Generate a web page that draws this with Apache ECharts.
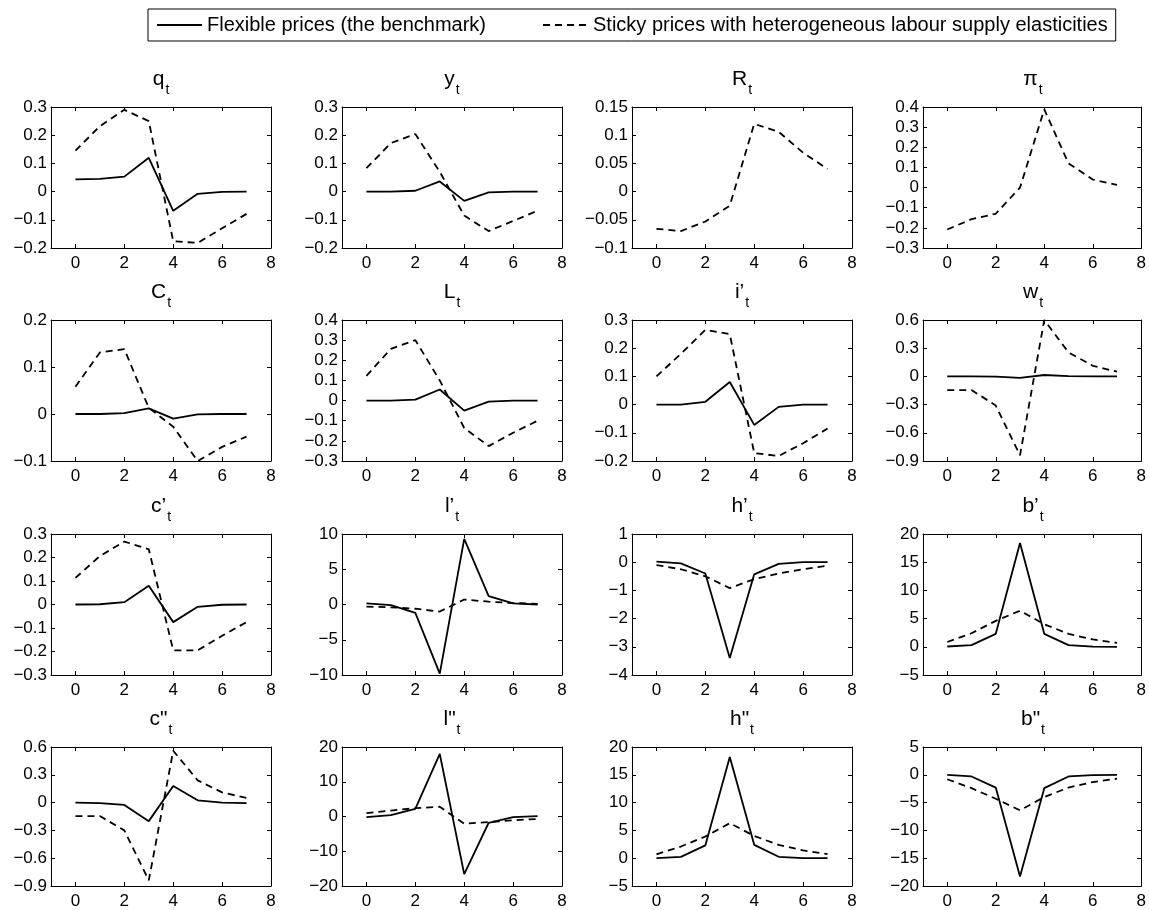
<!DOCTYPE html>
<html>
<head>
<meta charset="utf-8">
<script src="https://cdn.jsdelivr.net/npm/echarts@6/dist/echarts.min.js"></script>
<style>
  html, body { margin: 0; padding: 0; background: #fff; }
  #chart { width: 1149px; height: 910px; }
</style>
</head>
<body>
<div id="chart"></div>
<script>
// periods after the shock
const periods = [0, 1, 2, 3, 4, 5, 6, 7]

// flexible prices (solid) / sticky prices (dashed)
const qFlex = [0.043, 0.045, 0.053, 0.12, -0.068, -0.008, -0.001, 0]
const qSticky = [0.145, 0.232, 0.29, 0.25, -0.176, -0.182, -0.13, -0.079]
const yFlex = [0, 0, 0.003, 0.036, -0.033, -0.003, 0, 0]
const ySticky = [0.083, 0.172, 0.204, 0.07, -0.085, -0.14, -0.104, -0.068]
const RSticky = [-0.066, -0.07, -0.053, -0.025, 0.12, 0.106, 0.069, 0.04]
const piSticky = [-0.208, -0.157, -0.13, 0.0, 0.388, 0.12, 0.04, 0.013]

const CFlex = [0, 0, 0.002, 0.012, -0.01, -0.001, 0, 0]
const CSticky = [0.058, 0.131, 0.138, 0.013, -0.027, -0.1, -0.07, -0.048]
const LFlex = [0, 0, 0.005, 0.055, -0.05, -0.005, 0, 0]
const LSticky = [0.123, 0.257, 0.3, 0.1, -0.136, -0.226, -0.16, -0.1]
const iFlex = [0, 0, 0.01, 0.08, -0.072, -0.008, 0, 0]
const iSticky = [0.1, 0.18, 0.265, 0.25, -0.172, -0.182, -0.137, -0.085]
const wFlex = [0, 0, -0.003, -0.015, 0.015, 0.002, 0, 0]
const wSticky = [-0.145, -0.145, -0.31, -0.84, 0.6, 0.255, 0.113, 0.05]

const c1Flex = [0, 0.001, 0.01, 0.08, -0.075, -0.01, -0.001, 0]
const c1Sticky = [0.113, 0.206, 0.268, 0.235, -0.195, -0.195, -0.133, -0.075]
const l1Flex = [0.15, -0.1, -1.2, -9.8, 9.3, 1.2, 0.15, 0]
const l1Sticky = [-0.3, -0.4, -0.6, -1.0, 0.7, 0.4, 0.2, 0.1]
const h1Flex = [0.02, -0.04, -0.4, -3.4, -0.43, -0.06, 0, 0]
const h1Sticky = [-0.1, -0.25, -0.5, -0.92, -0.6, -0.4, -0.25, -0.12]
const b1Flex = [0.05, 0.3, 2.3, 18.4, 2.3, 0.3, 0.03, 0]
const b1Sticky = [0.85, 2.4, 4.6, 6.4, 4.0, 2.3, 1.3, 0.7]

const c2Flex = [0, -0.005, -0.025, -0.2, 0.18, 0.025, 0, -0.005]
const c2Sticky = [-0.145, -0.145, -0.3, -0.84, 0.56, 0.24, 0.11, 0.05]
const l2Flex = [-0.2, 0.4, 2.2, 18, -16.6, -1.8, -0.2, 0.1]
const l2Sticky = [1.0, 1.7, 2.4, 2.8, -2.1, -1.6, -1.1, -0.7]
const h2Flex = [0, 0.25, 2.3, 18.2, 2.4, 0.25, 0.03, 0]
const h2Sticky = [0.7, 2.1, 3.9, 6.3, 4.0, 2.4, 1.4, 0.75]
const b2Flex = [0, -0.3, -2.3, -18.3, -2.4, -0.3, -0.05, 0]
const b2Sticky = [-0.8, -2.4, -4.3, -6.4, -4.0, -2.3, -1.3, -0.7]

// y axis ticks: [min, max, step]
const qTicks = [-0.2, 0.3, 0.1]
const yTicks = [-0.2, 0.3, 0.1]
const RTicks = [-0.1, 0.15, 0.05]
const piTicks = [-0.3, 0.4, 0.1]
const CTicks = [-0.1, 0.2, 0.1]
const LTicks = [-0.3, 0.4, 0.1]
const iTicks = [-0.2, 0.3, 0.1]
const wTicks = [-0.9, 0.6, 0.3]
const c1Ticks = [-0.3, 0.3, 0.1]
const l1Ticks = [-10, 10, 5]
const h1Ticks = [-4, 1, 1]
const b1Ticks = [-5, 20, 5]
const c2Ticks = [-0.9, 0.6, 0.3]
const l2Ticks = [-20, 20, 10]
const h2Ticks = [-5, 20, 5]
const b2Ticks = [-20, 5, 5]

const xTickLabels = [0, 2, 4, 6, 8]

const flexName = 'Flexible prices (the benchmark)'
const stickyName = 'Sticky prices with heterogeneous labour supply elasticities'

const panels = [
  ['q', 't', qFlex, qSticky, qTicks],
  ['y', 't', yFlex, ySticky, yTicks],
  ['R', 't', null, RSticky, RTicks],
  ['\u03c0', 't', null, piSticky, piTicks],
  ['C', 't', CFlex, CSticky, CTicks],
  ['L', 't', LFlex, LSticky, LTicks],
  ['i\u2019', 't', iFlex, iSticky, iTicks],
  ['w', 't', wFlex, wSticky, wTicks],
  ['c\u2019', 't', c1Flex, c1Sticky, c1Ticks],
  ['l\u2019', 't', l1Flex, l1Sticky, l1Ticks],
  ['h\u2019', 't', h1Flex, h1Sticky, h1Ticks],
  ['b\u2019', 't', b1Flex, b1Sticky, b1Ticks],
  ['c"', 't', c2Flex, c2Sticky, c2Ticks],
  ['l"', 't', l2Flex, l2Sticky, l2Ticks],
  ['h"', 't', h2Flex, h2Sticky, h2Ticks],
  ['b"', 't', b2Flex, b2Sticky, b2Ticks]
]

const font = 'Liberation Sans, Arial, Helvetica, sans-serif'
const colLeft = [51, 342, 632, 923]
const rowTop = [107, 320, 534, 747]
const plotW = 220
const plotH = 141

function fmt (v) {
  return String(parseFloat(v.toFixed(6))).replace('-', '\u2212')
}

function pairs (vals) {
  return periods.map(function (t, k) { return [t, vals[k]] })
}

const grids = []
const xAxes = []
const yAxes = []
const titles = []
const series = []

panels.forEach(function (p, i) {
  const left = colLeft[i % 4]
  const top = rowTop[Math.floor(i / 4)]
  grids.push({ left: left, top: top, width: plotW, height: plotH, containLabel: false })

  // title with subscript t
  titles.push({
    text: '{m|' + p[0] + '}{s|' + p[1] + '}',
    left: left + plotW / 2,
    top: top - 46,
    textAlign: 'center',
    padding: 0,
    textStyle: {
      fontWeight: 'normal',
      rich: {
        m: { fontFamily: font, fontSize: 21, fontWeight: 'normal', color: '#000', lineHeight: 24 },
        s: { fontFamily: font, fontSize: 14, fontWeight: 'normal', color: '#000', padding: [22, 0, 0, 1] }
      }
    }
  })

  const tick = { show: true, inside: true, length: 4, lineStyle: { color: '#000', width: 1 } }
  const line = { show: true, onZero: false, lineStyle: { color: '#000', width: 1 } }

  xAxes.push({
    gridIndex: i, type: 'value', position: 'bottom', min: -1, max: 8,
    axisLine: line,
    axisTick: Object.assign({ customValues: xTickLabels }, tick),
    axisLabel: { customValues: xTickLabels, color: '#000', fontFamily: font, fontSize: 17, margin: 7, formatter: fmt },
    splitLine: { show: false }
  })
  xAxes.push({
    gridIndex: i, type: 'value', position: 'top', min: -1, max: 8,
    axisLine: line,
    axisTick: Object.assign({ customValues: xTickLabels }, tick),
    axisLabel: { show: false },
    splitLine: { show: false }
  })
  const yr = p[4]
  yAxes.push({
    gridIndex: i, type: 'value', position: 'left', min: yr[0], max: yr[1], interval: yr[2],
    axisLine: line,
    axisTick: tick,
    axisLabel: { color: '#000', fontFamily: font, fontSize: 17, margin: 4, formatter: fmt },
    splitLine: { show: false }
  })
  yAxes.push({
    gridIndex: i, type: 'value', position: 'right', min: yr[0], max: yr[1], interval: yr[2],
    axisLine: line,
    axisTick: tick,
    axisLabel: { show: false },
    splitLine: { show: false }
  })

  if (p[2]) {
    series.push({
      name: flexName, type: 'line', xAxisIndex: i * 2, yAxisIndex: i * 2,
      data: pairs(p[2]), symbol: 'none', silent: true,
      lineStyle: { color: '#000', width: 1.8, type: 'solid' }
    })
  }
  series.push({
    name: stickyName, type: 'line', xAxisIndex: i * 2, yAxisIndex: i * 2,
    data: pairs(p[3]), symbol: 'none', silent: true,
    lineStyle: { color: '#000', width: 1.8, type: [7, 5] }
  })
})

const chart = echarts.init(document.getElementById('chart'), null, { renderer: 'canvas' })
chart.setOption({
  backgroundColor: '#fff',
  animation: false,
  color: ['#000', '#000'],
  title: titles,
  legend: {
    data: [flexName, stickyName],
    left: 148,
    top: 9,
    padding: [6, 8, 6, 8],
    itemGap: 56,
    itemWidth: 45,
    itemHeight: 14,
    borderColor: '#000',
    borderWidth: 1,
    borderRadius: 0,
    selectedMode: false,
    itemStyle: { opacity: 0 },
    textStyle: { color: '#000', fontFamily: font, fontSize: 20 }
  },
  grid: grids,
  xAxis: xAxes,
  yAxis: yAxes,
  series: series
})
</script>
</body>
</html>
